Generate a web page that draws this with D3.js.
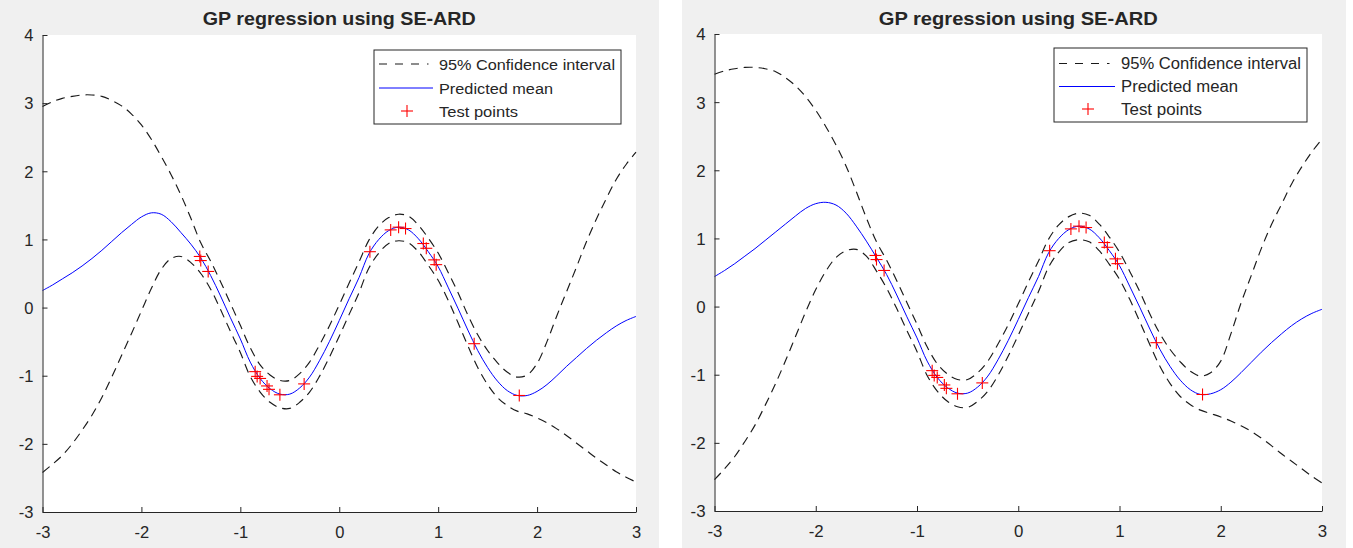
<!DOCTYPE html>
<html>
<head>
<meta charset="utf-8">
<script src="https://cdn.jsdelivr.net/npm/d3@7/dist/d3.min.js"></script>
<style>
  html, body { margin: 0; padding: 0; background: #ffffff; }
  svg { display: block; }
  text { font-family: "Liberation Sans", Arial, Helvetica, sans-serif; fill: #262626; }
</style>
</head>
<body>
<svg id="chart" width="1353" height="548"></svg>
<script>
// ---- data ---------------------------------------------------------------
const xGrid = [-3.0,-2.9,-2.8,-2.7,-2.6,-2.5,-2.4,-2.3,-2.2,-2.1,-2.0,-1.9,-1.8,-1.7,-1.6,-1.5,-1.4,-1.3,-1.2,-1.1,
  -1.0,-0.9,-0.8,-0.7,-0.6,-0.5,-0.4,-0.3,-0.2,-0.1,0.0,0.1,0.2,0.3,0.4,0.5,0.6,0.7,0.8,0.9,
  1.0,1.1,1.2,1.3,1.4,1.5,1.6,1.7,1.8,1.9,2.0,2.1,2.2,2.3,2.4,2.5,2.6,2.7,2.8,2.9,3.0];

// left model
const meanA = [0.25,0.33,0.42,0.51,0.61,0.72,0.84,0.97,1.10,1.22,1.33,1.39,1.37,1.26,1.10,0.93,0.73,0.47,0.17,-0.15,
  -0.46,-0.80,-1.04,-1.19,-1.27,-1.27,-1.18,-1.02,-0.78,-0.50,-0.19,0.13,0.44,0.79,1.00,1.13,1.18,1.14,1.01,0.82,
  0.60,0.30,-0.01,-0.33,-0.63,-0.88,-1.08,-1.22,-1.29,-1.29,-1.23,-1.13,-1.00,-0.86,-0.73,-0.60,-0.48,-0.37,-0.27,-0.19,-0.13];
const upperA = [2.95,3.02,3.07,3.10,3.12,3.12,3.10,3.04,2.96,2.84,2.68,2.47,2.22,1.95,1.65,1.31,0.95,0.68,0.38,0.06,
  -0.26,-0.59,-0.84,-0.99,-1.07,-1.07,-0.97,-0.80,-0.55,-0.27,0.04,0.36,0.67,0.99,1.20,1.32,1.37,1.34,1.21,1.02,
  0.80,0.52,0.22,-0.11,-0.40,-0.63,-0.81,-0.95,-1.02,-0.99,-0.82,-0.50,-0.12,0.24,0.60,0.97,1.30,1.60,1.88,2.10,2.28];
const lowerA = [-2.42,-2.30,-2.17,-2.00,-1.80,-1.58,-1.32,-1.02,-0.70,-0.38,-0.05,0.28,0.56,0.72,0.75,0.66,0.50,0.27,-0.03,-0.35,
  -0.66,-1.01,-1.24,-1.39,-1.47,-1.48,-1.39,-1.24,-1.01,-0.73,-0.42,-0.10,0.22,0.58,0.80,0.94,0.98,0.95,0.82,0.62,
  0.40,0.11,-0.22,-0.56,-0.88,-1.13,-1.32,-1.44,-1.52,-1.56,-1.62,-1.69,-1.78,-1.88,-1.99,-2.10,-2.21,-2.31,-2.41,-2.49,-2.56];

// right model
const meanB = [0.44,0.53,0.63,0.74,0.85,0.97,1.09,1.21,1.33,1.44,1.51,1.53,1.49,1.37,1.18,0.96,0.72,0.47,0.17,-0.15,
  -0.46,-0.80,-1.04,-1.19,-1.27,-1.27,-1.18,-1.02,-0.78,-0.50,-0.19,0.13,0.44,0.79,1.00,1.13,1.18,1.14,1.01,0.82,
  0.60,0.30,-0.01,-0.33,-0.63,-0.88,-1.08,-1.22,-1.29,-1.28,-1.22,-1.11,-0.97,-0.82,-0.67,-0.53,-0.40,-0.28,-0.18,-0.10,-0.04];
const upperB = [3.41,3.46,3.49,3.51,3.51,3.49,3.45,3.36,3.24,3.08,2.88,2.64,2.37,2.06,1.69,1.30,0.95,0.68,0.38,0.06,
  -0.26,-0.59,-0.84,-0.99,-1.07,-1.07,-0.97,-0.80,-0.55,-0.27,0.04,0.36,0.67,0.99,1.20,1.32,1.37,1.34,1.21,1.02,
  0.80,0.52,0.22,-0.11,-0.40,-0.63,-0.81,-0.95,-1.02,-0.97,-0.80,-0.40,0.05,0.45,0.85,1.20,1.50,1.80,2.05,2.27,2.46];
const lowerB = [-2.54,-2.38,-2.20,-1.98,-1.74,-1.45,-1.14,-0.80,-0.44,-0.08,0.25,0.52,0.72,0.82,0.84,0.74,0.52,0.27,-0.03,-0.35,
  -0.66,-1.01,-1.24,-1.39,-1.47,-1.48,-1.39,-1.24,-1.01,-0.73,-0.42,-0.10,0.22,0.58,0.80,0.94,0.98,0.95,0.82,0.62,
  0.40,0.11,-0.22,-0.56,-0.88,-1.13,-1.32,-1.44,-1.52,-1.57,-1.62,-1.68,-1.75,-1.83,-1.93,-2.04,-2.16,-2.27,-2.38,-2.49,-2.59];

// observed test points (shared by both models)
const testX = [-1.41,-1.40,-1.325,-0.85,-0.83,-0.80,-0.73,-0.71,-0.60,-0.355,0.31,0.52,0.60,0.67,0.85,0.88,0.96,0.98,1.364,1.82];
const testY = [0.75,0.69,0.53,-0.94,-1.01,-1.04,-1.15,-1.20,-1.28,-1.12,0.82,1.14,1.18,1.16,0.94,0.87,0.70,0.63,-0.53,-1.29];

const xTicks = [-3,-2,-1,0,1,2,3];
const yTicks = [-3,-2,-1,0,1,2,3,4];
const chartTitle = "GP regression using SE-ARD";
const legendLabels = ["95% Confidence interval", "Predicted mean", "Test points"];

// ---- layout -------------------------------------------------------------
const panels = [
  { bg: [0, 659], plot: { left: 42.5, right: 636, top: 35, bottom: 512 },
    titleY: 19, titleW: 273,
    legend: { x0: 374, x1: 621, y0: 50, y1: 124, rows: [64, 88, 111], s0: 379, s1: 433, dashEnd: 428.5, plus: 407, tx: 439, tw: [176, 114, 79] },
    mean: meanA, upper: upperA, lower: lowerA, fs: 1.0 },
  { bg: [682, 1346], plot: { left: 714.5, right: 1322, top: 34, bottom: 511 },
    titleY: 18, titleW: 279,
    legend: { x0: 1054, x1: 1307, y0: 48, y1: 122, rows: [63.5, 86.5, 109], s0: 1059, s1: 1115, dashEnd: 1109.5, plus: 1088, tx: 1121, tw: [180, 117, 81] },
    mean: meanB, upper: upperB, lower: lowerB, fs: 1.02 }
];

const svg = d3.select("#chart");
const axisColor = "#262626";
const fontFamily = '"Liberation Sans", Arial, sans-serif';

function drawPanel(p) {
  const g = svg.append("g");
  g.append("rect").attr("x", p.bg[0]).attr("y", 0).attr("width", p.bg[1] - p.bg[0]).attr("height", 548).attr("fill", "#f0f0f0");

  const x = d3.scaleLinear().domain([-3, 3]).range([p.plot.left, p.plot.right]);
  const y = d3.scaleLinear().domain([-3, 4]).range([p.plot.bottom, p.plot.top]);

  g.append("rect").attr("x", p.plot.left).attr("y", p.plot.top)
    .attr("width", p.plot.right - p.plot.left).attr("height", p.plot.bottom - p.plot.top).attr("fill", "#ffffff");

  // confidence band edges (dashed) and predicted mean
  const line = vals => d3.line().curve(d3.curveCatmullRom.alpha(0.5)).x((d, i) => x(xGrid[i])).y(d => y(d))(vals);
  [p.upper, p.lower].forEach(vals => {
    g.append("path").attr("d", line(vals)).attr("fill", "none").attr("stroke", "#1a1a1a")
      .attr("stroke-width", 1.15).attr("stroke-dasharray", "9,6");
  });
  g.append("path").attr("d", line(p.mean)).attr("fill", "none").attr("stroke", "#0000ff").attr("stroke-width", 1);

  // test points as '+' markers
  const plus = g.append("g").attr("stroke", "#ff0000").attr("stroke-width", 1.1);
  testX.forEach((v, i) => {
    const cx = x(v), cy = y(testY[i]), h = 6;
    plus.append("line").attr("x1", cx - h).attr("x2", cx + h).attr("y1", cy).attr("y2", cy);
    plus.append("line").attr("x1", cx).attr("x2", cx).attr("y1", cy - h).attr("y2", cy + h);
  });

  // axes (ticks point inward)
  const fmt = d => String(d);
  const xAxis = d3.axisBottom(x).tickValues(xTicks).tickSizeInner(-5).tickSizeOuter(0).tickFormat(fmt);
  const yAxis = d3.axisLeft(y).tickValues(yTicks).tickSizeInner(-5).tickSizeOuter(0).tickFormat(fmt);
  const gx = g.append("g").attr("transform", `translate(0,${p.plot.bottom})`).call(xAxis);
  const gy = g.append("g").attr("transform", `translate(${p.plot.left},0)`).call(yAxis);
  [gx, gy].forEach(a => {
    a.select(".domain").attr("stroke", axisColor);
    a.selectAll(".tick line").attr("stroke", axisColor);
    a.selectAll(".tick text").attr("fill", axisColor).style("font-size", (16.5 * p.fs) + "px")
      .style("font-family", fontFamily);
  });
  gx.selectAll(".tick text").attr("y", 20).attr("dy", "0.35em");
  gy.selectAll(".tick text").attr("x", -9).attr("dy", "0.35em");

  // title
  g.append("text").attr("x", (p.plot.left + p.plot.right) / 2).attr("y", p.titleY)
    .attr("text-anchor", "middle").attr("dominant-baseline", "central")
    .attr("textLength", p.titleW).attr("lengthAdjust", "spacingAndGlyphs")
    .style("font-size", (18 * p.fs) + "px").style("font-weight", "bold").style("font-family", fontFamily)
    .attr("fill", "#000").text(chartTitle);

  // legend
  const L = p.legend;
  g.append("rect").attr("x", L.x0).attr("y", L.y0).attr("width", L.x1 - L.x0).attr("height", L.y1 - L.y0)
    .attr("fill", "#ffffff").attr("stroke", axisColor).attr("stroke-width", 1);
  g.append("line").attr("x1", L.s0).attr("x2", L.dashEnd).attr("y1", L.rows[0]).attr("y2", L.rows[0])
    .attr("stroke", "#1a1a1a").attr("stroke-width", 1.15).attr("stroke-dasharray", "8,8");
  g.append("line").attr("x1", L.s0).attr("x2", L.s1).attr("y1", L.rows[1]).attr("y2", L.rows[1])
    .attr("stroke", "#0000ff").attr("stroke-width", 1);
  g.append("line").attr("x1", L.plus - 6).attr("x2", L.plus + 6).attr("y1", L.rows[2]).attr("y2", L.rows[2]).attr("stroke", "#ff0000").attr("stroke-width", 1.1);
  g.append("line").attr("x1", L.plus).attr("x2", L.plus).attr("y1", L.rows[2] - 6).attr("y2", L.rows[2] + 6).attr("stroke", "#ff0000").attr("stroke-width", 1.1);
  legendLabels.forEach((t, i) => {
    g.append("text").attr("x", L.tx).attr("y", L.rows[i]).attr("dominant-baseline", "central")
      .attr("textLength", L.tw[i]).attr("lengthAdjust", "spacingAndGlyphs")
      .style("font-size", (15.5 * p.fs) + "px").style("font-family", fontFamily).attr("fill", "#000").text(t);
  });
}

panels.forEach(drawPanel);
</script>
</body>
</html>
